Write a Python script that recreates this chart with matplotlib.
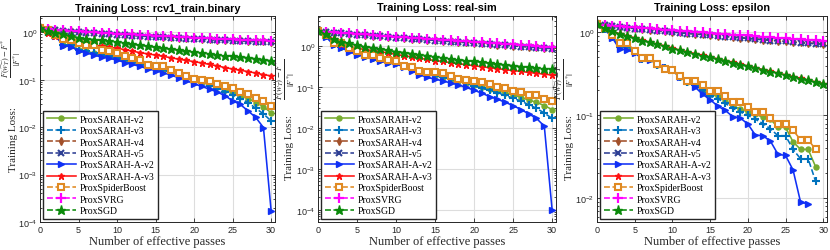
import matplotlib
matplotlib.use('Agg')
import matplotlib.pyplot as plt
from matplotlib.ticker import LogLocator, NullFormatter, FixedLocator

plt.rcParams['mathtext.fontset'] = 'stix'

# ---------------- data ----------------
passes = list(range(31))
methods = ['ProxSARAH-v2', 'ProxSARAH-v3', 'ProxSARAH-v4', 'ProxSARAH-v5',
           'ProxSARAH-A-v2', 'ProxSARAH-A-v3', 'ProxSpiderBoost', 'ProxSVRG', 'ProxSGD']
titles = ['Training Loss: rcv1_train.binary', 'Training Loss: real-sim', 'Training Loss: epsilon']

# rcv1_train.binary
rcv1_v2 = [1.20, 1.02, 0.88, 0.55, 0.53, 0.43, 0.40, 0.36, 0.33, 0.31, 0.29, 0.26, 0.24, 0.215, 0.195, 0.178,
           0.16, 0.145, 0.13, 0.115, 0.10, 0.09, 0.08, 0.07, 0.062, 0.052, 0.045, 0.040, 0.033, 0.027, 0.020]
rcv1_v3 = [1.20, 1.02, 0.88, 0.55, 0.53, 0.43, 0.40, 0.36, 0.33, 0.31, 0.29, 0.26, 0.24, 0.215, 0.195, 0.175,
           0.158, 0.142, 0.127, 0.112, 0.098, 0.087, 0.075, 0.065, 0.056, 0.047, 0.040, 0.033, 0.025, 0.019, 0.0135]
rcv1_v4 = [1.20, 1.15, 1.11, 1.08, 1.05, 1.02, 0.99, 0.97, 0.95, 0.93, 0.91, 0.89, 0.87, 0.85, 0.83, 0.82,
           0.80, 0.79, 0.77, 0.76, 0.74, 0.73, 0.72, 0.70, 0.69, 0.68, 0.67, 0.66, 0.65, 0.64, 0.63]
rcv1_v5 = [1.20, 1.14, 1.10, 1.06, 1.03, 1.00, 0.97, 0.95, 0.93, 0.91, 0.89, 0.87, 0.85, 0.83, 0.81, 0.79,
           0.78, 0.76, 0.75, 0.73, 0.72, 0.71, 0.69, 0.68, 0.67, 0.66, 0.65, 0.64, 0.63, 0.62, 0.61]
rcv1_av2 = [1.20, 1.00, 0.85, 0.52, 0.50, 0.40, 0.37, 0.33, 0.30, 0.28, 0.26, 0.23, 0.21, 0.19, 0.17, 0.155,
            0.14, 0.125, 0.11, 0.095, 0.082, 0.072, 0.063, 0.055, 0.046, 0.036, 0.030, 0.022, 0.016, 0.0098, 0.00017]
rcv1_av3 = [1.20, 0.95, 0.84, 0.76, 0.68, 0.62, 0.58, 0.54, 0.51, 0.48, 0.46, 0.43, 0.40, 0.37, 0.35, 0.33,
            0.31, 0.29, 0.27, 0.255, 0.24, 0.225, 0.21, 0.195, 0.18, 0.168, 0.158, 0.148, 0.138, 0.128, 0.12]
rcv1_spider = [1.20, 1.10, 0.88, 0.71, 0.70, 0.59, 0.53, 0.53, 0.42, 0.40, 0.36, 0.32, 0.29, 0.255, 0.20, 0.19,
               0.19, 0.16, 0.14, 0.12, 0.105, 0.10, 0.092, 0.083, 0.075, 0.066, 0.055, 0.050, 0.042, 0.035, 0.028]
rcv1_svrg = [1.20, 1.16, 1.13, 1.10, 1.07, 1.04, 1.02, 1.00, 0.98, 0.96, 0.94, 0.92, 0.90, 0.88, 0.86, 0.85,
             0.83, 0.82, 0.80, 0.79, 0.77, 0.76, 0.75, 0.73, 0.72, 0.71, 0.70, 0.69, 0.68, 0.67, 0.66]
rcv1_sgd = [1.20, 1.08, 0.98, 0.90, 0.83, 0.77, 0.73, 0.70, 0.67, 0.64, 0.62, 0.59, 0.56, 0.53, 0.51, 0.48,
            0.46, 0.44, 0.42, 0.40, 0.38, 0.365, 0.35, 0.335, 0.32, 0.31, 0.30, 0.29, 0.275, 0.265, 0.25]

# real-sim
real_v2 = [2.3, 1.75, 1.1, 0.95, 0.78, 0.65, 0.58, 0.52, 0.45, 0.41, 0.38, 0.32, 0.28, 0.24, 0.21, 0.19,
           0.17, 0.155, 0.14, 0.125, 0.11, 0.10, 0.09, 0.08, 0.072, 0.064, 0.055, 0.048, 0.042, 0.035, 0.028]
real_v3 = [2.3, 1.75, 1.1, 0.95, 0.78, 0.65, 0.58, 0.52, 0.45, 0.41, 0.38, 0.32, 0.28, 0.24, 0.21, 0.19,
           0.17, 0.155, 0.14, 0.123, 0.105, 0.093, 0.082, 0.072, 0.062, 0.053, 0.045, 0.037, 0.030, 0.023, 0.017]
real_v4 = [2.30, 2.20, 2.12, 2.05, 1.98, 1.91, 1.85, 1.79, 1.73, 1.67, 1.62, 1.57, 1.52, 1.47, 1.43, 1.38,
           1.34, 1.30, 1.26, 1.22, 1.18, 1.15, 1.11, 1.08, 1.05, 1.02, 0.99, 0.96, 0.93, 0.90, 0.88]
real_v5 = [2.30, 2.19, 2.10, 2.03, 1.96, 1.89, 1.83, 1.77, 1.71, 1.65, 1.60, 1.55, 1.50, 1.45, 1.41, 1.36,
           1.32, 1.28, 1.24, 1.20, 1.16, 1.13, 1.09, 1.06, 1.03, 1.00, 0.97, 0.94, 0.91, 0.88, 0.86]
real_av2 = [2.3, 1.7, 1.06, 0.90, 0.73, 0.61, 0.55, 0.48, 0.42, 0.39, 0.36, 0.31, 0.25, 0.20, 0.17, 0.155,
            0.14, 0.125, 0.112, 0.097, 0.083, 0.07, 0.058, 0.05, 0.042, 0.035, 0.028, 0.022, 0.017, 0.011, 0.0001]
real_av3 = [2.30, 1.90, 1.45, 1.10, 0.98, 0.88, 0.82, 0.77, 0.72, 0.68, 0.62, 0.58, 0.54, 0.50, 0.47, 0.44,
            0.42, 0.39, 0.37, 0.35, 0.33, 0.31, 0.295, 0.28, 0.265, 0.25, 0.24, 0.225, 0.215, 0.205, 0.195]
real_spider = [2.3, 1.9, 1.2, 1.15, 0.88, 0.76, 0.61, 0.60, 0.50, 0.46, 0.42, 0.33, 0.30, 0.25, 0.23, 0.225,
               0.22, 0.18, 0.16, 0.15, 0.14, 0.135, 0.12, 0.10, 0.092, 0.08, 0.076, 0.063, 0.065, 0.05, 0.045]
real_svrg = [2.30, 2.22, 2.15, 2.09, 2.03, 1.97, 1.91, 1.85, 1.80, 1.74, 1.69, 1.64, 1.59, 1.55, 1.50, 1.46,
             1.42, 1.38, 1.34, 1.30, 1.26, 1.22, 1.19, 1.15, 1.12, 1.09, 1.06, 1.03, 1.00, 0.97, 0.95]
real_sgd = [2.30, 2.00, 1.50, 1.25, 1.15, 1.05, 0.97, 0.90, 0.84, 0.78, 0.73, 0.69, 0.65, 0.61, 0.58, 0.55,
            0.52, 0.49, 0.465, 0.44, 0.42, 0.40, 0.38, 0.36, 0.345, 0.33, 0.315, 0.30, 0.29, 0.28, 0.27]

# epsilon
eps_v2 = [1.25, 1.11, 0.90, 0.69, 0.68, 0.59, 0.49, 0.48, 0.41, 0.37, 0.35, 0.29, 0.25, 0.24, 0.21, 0.18,
          0.17, 0.15, 0.13, 0.12, 0.11, 0.104, 0.095, 0.09, 0.072, 0.072, 0.048, 0.039, 0.039, 0.024]
eps_v3 = [1.25, 1.11, 0.89, 0.67, 0.66, 0.58, 0.485, 0.475, 0.41, 0.37, 0.35, 0.29, 0.25, 0.235, 0.20, 0.17,
          0.16, 0.14, 0.122, 0.11, 0.10, 0.09, 0.08, 0.069, 0.057, 0.057, 0.039, 0.030, 0.030, 0.016]
eps_v4 = [1.25, 1.22, 1.19, 1.17, 1.14, 1.12, 1.10, 1.08, 1.06, 1.04, 1.02, 1.00, 0.98, 0.96, 0.95, 0.93,
          0.91, 0.90, 0.88, 0.87, 0.85, 0.84, 0.82, 0.81, 0.80, 0.78, 0.77, 0.76, 0.75, 0.74, 0.73]
eps_v5 = [1.25, 1.22, 1.19, 1.16, 1.14, 1.11, 1.09, 1.07, 1.05, 1.03, 1.01, 0.99, 0.97, 0.96, 0.94, 0.92,
          0.91, 0.89, 0.88, 0.86, 0.85, 0.83, 0.82, 0.80, 0.79, 0.78, 0.76, 0.75, 0.74, 0.73, 0.72]
eps_av2 = [1.25, 1.10, 0.87, 0.63, 0.62, 0.57, 0.48, 0.47, 0.42, 0.38, 0.35, 0.29, 0.26, 0.22, 0.18, 0.155,
           0.13, 0.115, 0.097, 0.093, 0.079, 0.058, 0.057, 0.049, 0.034, 0.033, 0.022, 0.009, 0.0086]
eps_av3 = [1.25, 1.14, 1.04, 0.96, 0.91, 0.86, 0.81, 0.76, 0.72, 0.69, 0.65, 0.61, 0.585, 0.555, 0.53, 0.505,
           0.48, 0.455, 0.435, 0.415, 0.395, 0.375, 0.357, 0.34, 0.324, 0.308, 0.294, 0.28, 0.266, 0.253, 0.242]
eps_spider = [1.25, 1.12, 0.93, 0.75, 0.75, 0.60, 0.49, 0.49, 0.42, 0.36, 0.355, 0.30, 0.26, 0.26, 0.23, 0.195,
              0.195, 0.17, 0.147, 0.147, 0.125, 0.109, 0.109, 0.093, 0.079, 0.079, 0.066, 0.051, 0.051, 0.039]
eps_svrg = [1.25, 1.23, 1.21, 1.19, 1.17, 1.15, 1.13, 1.12, 1.10, 1.08, 1.07, 1.05, 1.03, 1.02, 1.00, 0.99,
            0.97, 0.96, 0.94, 0.93, 0.92, 0.90, 0.89, 0.88, 0.86, 0.85, 0.84, 0.83, 0.82, 0.81, 0.80]
eps_sgd = [1.25, 1.13, 1.03, 0.96, 0.90, 0.85, 0.80, 0.76, 0.72, 0.68, 0.64, 0.61, 0.58, 0.553, 0.526, 0.50,
           0.477, 0.454, 0.432, 0.411, 0.392, 0.373, 0.355, 0.338, 0.322, 0.306, 0.292, 0.278, 0.264, 0.252, 0.24]

datasets = [
    [rcv1_v2, rcv1_v3, rcv1_v4, rcv1_v5, rcv1_av2, rcv1_av3, rcv1_spider, rcv1_svrg, rcv1_sgd],
    [real_v2, real_v3, real_v4, real_v5, real_av2, real_av3, real_spider, real_svrg, real_sgd],
    [eps_v2, eps_v3, eps_v4, eps_v5, eps_av2, eps_av3, eps_spider, eps_svrg, eps_sgd],
]
ylabel_text = 'Training Loss:'
ylabel_fracs = [r'$\dfrac{F(\widetilde{w_T})-F^{*}}{|F^{*}|}$',
                r'$\dfrac{F(w_T)-F^{*}}{|F^{*}|}$',
                r'$\dfrac{F(\widetilde{w_T})-F^{*}}{|F^{*}|}$']
ylims = [(1e-4, 2.2), (5e-5, 5.4), (5.2e-3, 1.58)]
ymajor = [[1e-4, 1e-3, 1e-2, 1e-1, 1e0], [1e-4, 1e-3, 1e-2, 1e-1, 1e0], [1e-2, 1e-1, 1e0]]

# ---------------- styles ----------------
styles = [
    dict(color='#77AC30', ls='-', marker='o', ms=3.6, mfc='#77AC30'),
    dict(color='#0072BD', ls='--', marker='+', ms=5.5, mew=1.5),
    dict(color='#A2502A', ls='--', marker='d', ms=3.6, mfc='#A2502A'),
    dict(color='#2E3F94', ls='--', marker='x', ms=4.5, mew=1.5),
    dict(color='#1030F5', ls='-', marker='>', ms=5.0, mfc='#1030F5'),
    dict(color='#FF1010', ls='-', marker='*', ms=4.5, mfc='#FF1010'),
    dict(color='#E08A22', ls='--', marker='s', ms=4.3, mfc='white', mew=1.5),
    dict(color='#FF00FF', ls='--', marker='+', ms=6.5, mew=1.6),
    dict(color='#0A8A0A', ls='--', marker='*', ms=6.5, mfc='#0A8A0A'),
]

W, H = 830, 251
fig = plt.figure(figsize=(W / 100, H / 100), dpi=100)
lefts = [40, 318, 597]
rights = [275, 556, 827]
text_x = [13, 289, 569]
text_y = [140, 148, 148]
frac_x = [11, 285.5, 564.5]
frac_y = [58, 79, 79]
frac_size = [6.0, 6.3, 6.3]
bottom = 28 / H
top = 234 / H

for k in range(3):
    w = rights[k] - lefts[k]
    ax = fig.add_axes([lefts[k] / W, bottom, w / W, top - bottom])
    for j, (name, ys) in enumerate(zip(methods, datasets[k])):
        st = styles[j]
        ax.plot(passes[:len(ys)], ys, label=name, lw=1.15, **st)
    ax.set_yscale('log')
    ax.set_xlim(0, 30.5)
    ax.set_ylim(*ylims[k])
    ax.set_xticks([0, 5, 10, 15, 20, 25, 30])
    ax.yaxis.set_major_locator(FixedLocator(ymajor[k]))
    ax.yaxis.set_minor_locator(LogLocator(base=10, subs=range(2, 10), numticks=20))
    ax.yaxis.set_minor_formatter(NullFormatter())
    ax.grid(True, which='major', color='#DDDDDD', lw=0.8)
    ax.set_axisbelow(True)
    ax.tick_params(which='both', direction='in', top=True, right=True, labelsize=6.5,
                   colors='#262626', width=0.6, pad=2)
    ax.tick_params(which='major', length=3)
    ax.tick_params(which='minor', length=1.6)
    for lab in ax.get_xticklabels() + ax.get_yticklabels():
        lab.set_family('Liberation Sans')
    for sp in ax.spines.values():
        sp.set_color('#262626')
        sp.set_linewidth(0.7)
    ax.set_title(titles[k], fontsize=7.8, fontweight='bold', family='Liberation Sans', pad=4)
    ax.set_xlabel('Number of effective passes', fontsize=9, family='Liberation Serif',
                  color='#262626', labelpad=1)
    # y label: plain part and fraction part
    fig.text(text_x[k] / W, 1 - text_y[k] / H, ylabel_text, rotation=90, ha='center', va='center',
             fontsize=8, family='Liberation Serif', color='#262626')
    fig.text(frac_x[k] / W, 1 - frac_y[k] / H, ylabel_fracs[k], rotation=90, ha='center', va='center',
             fontsize=frac_size[k], color='#262626')
    leg = ax.legend(loc='lower left', bbox_to_anchor=(0.0, 0.0), borderaxespad=0.35,
                    prop={'family': 'Liberation Serif', 'size': 7}, handlelength=3.0,
                    labelspacing=0.25, handletextpad=0.4, borderpad=0.35,
                    fancybox=False, framealpha=1.0, edgecolor='#262626')
    leg.get_frame().set_linewidth(1.0)

fig.savefig('out.png', dpi=100)
